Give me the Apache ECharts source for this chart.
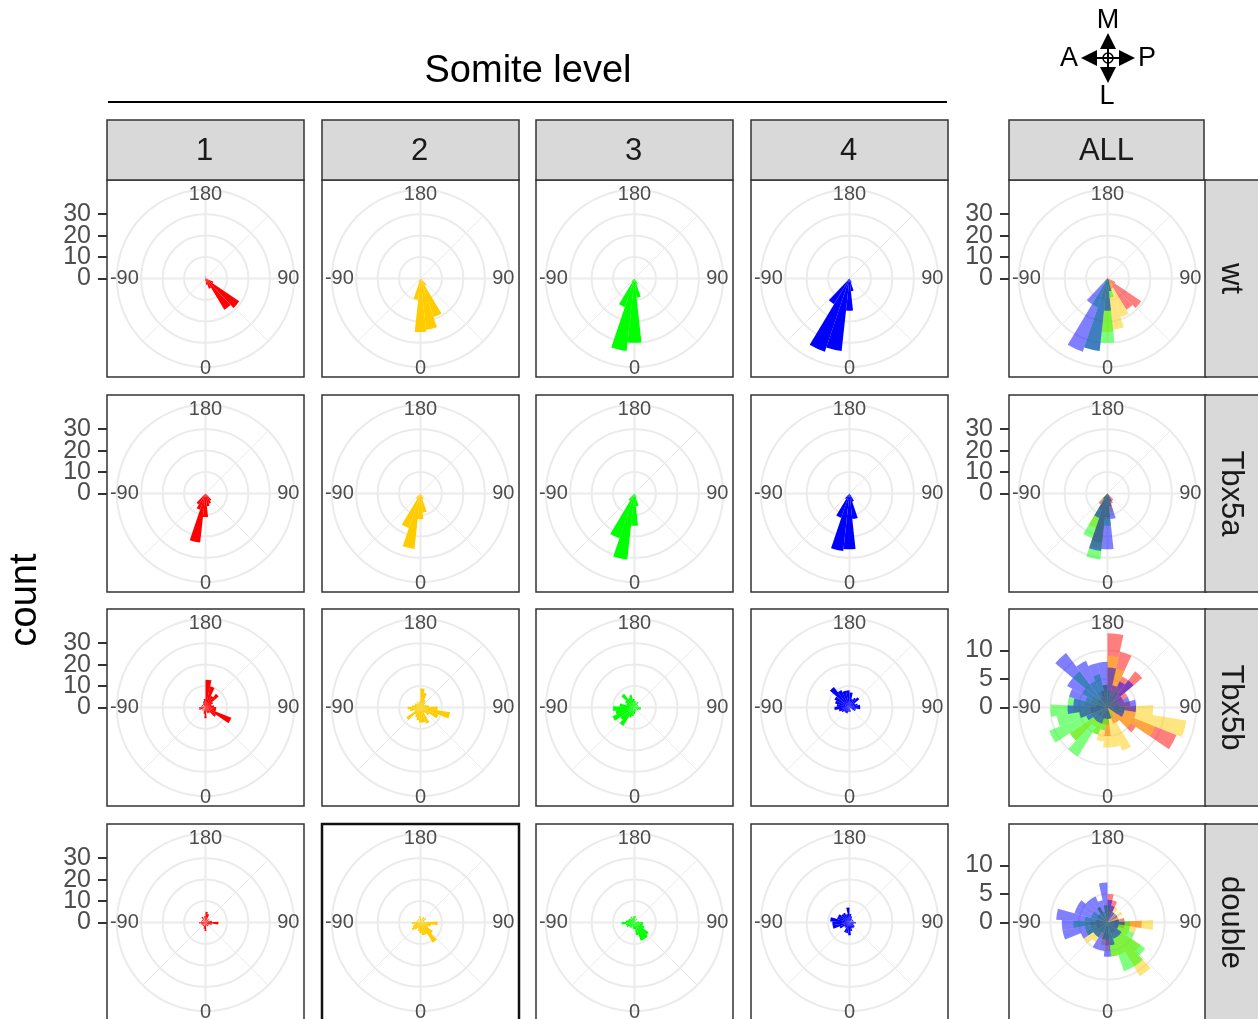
<!DOCTYPE html>
<html>
<head>
<meta charset="utf-8">
<script src="https://cdn.jsdelivr.net/npm/echarts@6/dist/echarts.min.js"></script>
<style>
  html, body { margin: 0; padding: 0; background: #ffffff; }
  #chart { width: 1258px; height: 1019px; }
</style>
</head>
<body>
<div id="chart"></div>
<script>
// Facets
const somiteLevels = ['1', '2', '3', '4'];
const genotypes = ['wt', 'Tbx5a', 'Tbx5b', 'double'];
const allLabel = 'ALL';
const levelColors = ['#ff0000', '#ffcc00', '#00ff00', '#0000ff'];

// Angle bins (29 bins of 360/29 degrees), centres from -173.79 to 173.79
const binCenters = [-173.79, -161.38, -148.97, -136.55, -124.14, -111.72, -99.31, -86.90, -74.48, -62.07,
  -49.66, -37.24, -24.83, -12.41, 0, 12.41, 24.83, 37.24, 49.66, 62.07,
  74.48, 86.90, 99.31, 111.72, 124.14, 136.55, 148.97, 161.38, 173.79];

// Grid spokes of the angle axis
const majorSpokes = [-90, 0, 90, 180];
const minorSpokes = [-45, 45, 135];
// Count axis ticks (split in two alternating sets so the big labels can sit close together)
const countBreaksMain = [[0, 20], [10, 30]];
const countBreaksMutantAll = [[0, 10], [5]];
const countGridMain = [10, 20, 30];
const countGridMutantAll = [5, 10];
const countMaxMain = 36.75;
const countMaxMutantAll = 13.8;

// Counts per angle bin, one array per genotype and somite level (bins in binCenters order)
const wt_1 = [0,0,0,0,0,0,0,0,0,0,0,0,0,1,1,3,5,17,19,4,1,0,0,0,0,0,0,0,1];
const wt_2 = [0,0,0,0,0,0,0,0,0,0,0,0,2,10,25,24,19,4,1,0,0,0,0,0,0,0,0,0,0];
const wt_3 = [0,0,0,0,0,0,0,0,0,0,0,2,14,34,30,9,3,0,0,0,0,0,0,0,0,0,0,0,0];
const wt_4 = [0,0,0,0,0,0,0,0,0,0,1,14,36,34,15,6,2,0,0,0,0,0,0,0,0,0,0,0,0];

const Tbx5a_1 = [0,0,0,0,0,0,0,0,0,0,0,6,8,23,11,6,5,4,0,0,0,0,0,0,0,0,0,0,0];
const Tbx5a_2 = [0,0,0,0,0,0,0,0,0,0,0,3,17,26,12,9,3,0,0,0,0,0,0,0,0,0,0,0,0];
const Tbx5a_3 = [0,0,0,0,0,0,0,0,0,0,0,4,22,31,15,6,2,0,0,0,0,0,0,0,0,0,0,0,0];
const Tbx5a_4 = [0,0,0,0,0,0,0,0,0,0,0,3,12,27,26,12,4,0,0,0,0,0,0,0,0,0,0,0,0];

const Tbx5b_1 = [4,3,2,0,2,0,2,3,3,0,2,0,2,3,5,2,3,3,6,13,5,5,4,3,4,8,6,10,13];
const Tbx5b_2 = [3,2,3,2,3,3,4,6,5,3,8,4,5,6,7,7,8,3,5,9,14,8,4,3,2,3,4,7,9];
const Tbx5b_3 = [4,6,5,8,5,4,7,10,9,11,8,10,5,4,3,2,2,0,0,2,3,3,2,0,2,0,3,2,3];
const Tbx5b_4 = [8,8,9,12,8,7,6,7,5,4,3,3,3,2,2,2,0,0,0,3,3,5,5,4,3,6,5,4,7];

const double_1 = [3,0,3,0,2,0,2,3,2,2,0,2,0,3,4,0,2,2,0,2,3,6,3,2,0,2,0,4,5];
const double_2 = [3,0,2,0,2,0,2,4,3,4,5,4,3,4,5,6,6,11,7,4,5,8,0,2,3,0,3,0,2];
const double_3 = [3,2,3,2,3,3,4,6,4,4,3,3,2,3,3,6,9,9,8,5,4,4,2,0,0,0,2,0,3];
const double_4 = [7,4,5,5,6,6,9,8,8,5,3,3,5,5,6,4,3,3,3,2,2,3,2,0,2,0,2,3,4];

const countsByGenotype = {
  wt: [wt_1, wt_2, wt_3, wt_4],
  Tbx5a: [Tbx5a_1, Tbx5a_2, Tbx5a_3, Tbx5a_4],
  Tbx5b: [Tbx5b_1, Tbx5b_2, Tbx5b_3, Tbx5b_4],
  double: [double_1, double_2, double_3, double_4]
};

// Layout
const panelLeft = [107, 322, 536, 751, 1009];
const panelTop = [180, 395, 609, 824];
const panelSize = 197;
const GRID = '#ebebeb';
const CLEAR = 'rgba(0,0,0,0)';
const FONT = "'Liberation Sans', Arial, Helvetica, sans-serif";
const AXIS_TEXT = '#4d4d4d';
const ANGLE_FONT = 20;

// which angle labels each overlay axis prints, and how far inside the ring it prints them
const angleLabelSets = [
  { values: [-180, 180], margin: -14.8 },
  { values: [0], margin: -8.7 },
  { values: [-90], margin: -22 },
  { values: [90], margin: -17 }
];

function circleColors(ext, step, gridValues) {
  const out = [];
  for (let i = 0; i * step <= ext + 1e-9; i++) {
    out.push(gridValues.indexOf(i * step) >= 0 ? GRID : CLEAR);
  }
  out.push(CLEAR);
  return out;
}

function angleText(v) { return Math.abs(v) === 180 ? '180' : String(v); }

const option = {
  animation: false,
  backgroundColor: '#ffffff',
  polar: [], angleAxis: [], radiusAxis: [],
  grid: [], xAxis: [], yAxis: [],
  series: [], graphic: []
};

genotypes.forEach(function (g, row) {
  const levelCounts = countsByGenotype[g];
  for (let col = 0; col < 5; col++) {
    const isAll = col === 4;
    const mutantScale = isAll && (g === 'Tbx5b' || g === 'double');
    const rMax = mutantScale ? countMaxMutantAll : countMaxMain;
    const breakSets = mutantScale ? countBreaksMutantAll : countBreaksMain;
    const gridValues = mutantScale ? countGridMutantAll : countGridMain;
    const step = gridValues[0];
    const ext = rMax * 0.45 / 0.4;
    const cx = panelLeft[col] + panelSize / 2;
    const cy = panelTop[row] + panelSize / 2;
    const R = panelSize * 0.45;

    // main polar: circles, outer ring and bars
    const p = option.polar.length;
    option.polar.push({ center: [cx, cy], radius: [0, R] });
    option.angleAxis.push({
      polarIndex: p, type: 'value', min: -180, max: 180, interval: 90,
      startAngle: 90, clockwise: false, z: 10,
      axisLine: { show: true, lineStyle: { color: GRID, width: 2 } },
      axisTick: { show: false }, axisLabel: { show: false }, splitLine: { show: false }
    });
    option.radiusAxis.push({
      polarIndex: p, type: 'value', min: 0, max: ext, interval: step,
      axisLine: { show: false }, axisTick: { show: false }, axisLabel: { show: false },
      splitLine: { show: true, lineStyle: { color: circleColors(ext, step, gridValues), width: 2 } }
    });

    // overlay polars on the same centre carrying the angle labels
    angleLabelSets.forEach(function (set) {
      const q = option.polar.length;
      option.polar.push({ center: [cx, cy], radius: [0, R] });
      option.angleAxis.push({
        polarIndex: q, type: 'value', min: -180, max: 180, interval: 90,
        startAngle: 90, clockwise: false, z: 11,
        axisLine: { show: false }, axisTick: { show: false }, splitLine: { show: false },
        axisLabel: {
          show: true, margin: set.margin, fontSize: ANGLE_FONT, color: AXIS_TEXT, fontFamily: FONT,
          formatter: function (v) { return set.values.indexOf(v) >= 0 ? angleText(v) : ''; }
        }
      });
      option.radiusAxis.push({
        polarIndex: q, type: 'value', min: 0, max: ext,
        axisLine: { show: false }, axisTick: { show: false }, axisLabel: { show: false }, splitLine: { show: false }
      });
    });

    // radial grid spokes
    majorSpokes.concat(minorSpokes).forEach(function (a) {
      const major = majorSpokes.indexOf(a) >= 0;
      option.series.push({
        type: 'line', coordinateSystem: 'polar', polarIndex: p, silent: true,
        symbol: 'none', data: [[0, a], [ext, a]],
        lineStyle: { color: GRID, width: major ? 2 : 1 }, z: 1
      });
    });

    const levels = isAll ? [0, 1, 2, 3] : [col];
    levels.forEach(function (li) {
      option.series.push({
        type: 'bar', coordinateSystem: 'polar', polarIndex: p, silent: true,
        name: g + ' ' + (isAll ? allLabel : somiteLevels[li]),
        data: binCenters.map(function (c, i) { return [levelCounts[li][i], c]; }),
        barCategoryGap: '0%', barGap: '-100%',
        itemStyle: { color: levelColors[li], opacity: isAll ? 0.5 : 1 },
        z: 2
      });
    });

    // panel border
    const strong = (row === 3 && col === 1);
    option.graphic.push({
      type: 'rect', z: 100, silent: true,
      shape: { x: panelLeft[col], y: panelTop[row], width: panelSize, height: panelSize },
      style: { fill: CLEAR, stroke: strong ? '#111111' : '#333333', lineWidth: strong ? 2.5 : 1.5 }
    });

    // count axis on the left of the first column and of the ALL column
    if (col === 0 || isAll) {
      const h = panelSize * 0.4;
      breakSets.forEach(function (set) {
        const gi = option.grid.length;
        option.grid.push({ left: panelLeft[col], top: cy - h, width: 1, height: h });
        option.xAxis.push({ gridIndex: gi, type: 'value', show: false, min: 0, max: 1 });
        option.yAxis.push({
          gridIndex: gi, type: 'value', min: 0, max: rMax, position: 'left',
          axisLine: { show: false },
          axisTick: { show: true, length: 9, customValues: set, lineStyle: { color: '#333333', width: 2 } },
          axisLabel: {
            show: true, customValues: set, margin: 16, fontSize: 25,
            color: AXIS_TEXT, fontFamily: FONT, showMinLabel: true, showMaxLabel: true
          },
          splitLine: { show: false }
        });
      });
    }
  }

  // genotype strip on the right
  option.graphic.push({
    type: 'rect', z: 100, silent: true,
    shape: { x: 1205, y: panelTop[row], width: 70, height: panelSize },
    style: { fill: '#d9d9d9', stroke: '#333333', lineWidth: 1.5 }
  });
  option.graphic.push({
    type: 'text', z: 101, silent: true, x: 1231, y: panelTop[row] + panelSize / 2, rotation: -Math.PI / 2,
    style: { text: g, fontSize: 31, fontFamily: FONT, fill: '#1a1a1a', align: 'center', verticalAlign: 'middle' }
  });
});

// somite level strips on top
somiteLevels.concat([allLabel]).forEach(function (lab, col) {
  option.graphic.push({
    type: 'rect', z: 100, silent: true,
    shape: { x: panelLeft[col], y: 120, width: col === 4 ? 195 : panelSize, height: 60 },
    style: { fill: '#d9d9d9', stroke: '#333333', lineWidth: 1.5 }
  });
  option.graphic.push({
    type: 'text', z: 101, silent: true, x: panelLeft[col] + 97.5, y: 151,
    style: { text: lab, fontSize: 31, fontFamily: FONT, fill: '#1a1a1a', align: 'center', verticalAlign: 'middle' }
  });
});

// header title and rule
option.graphic.push({
  type: 'text', z: 101, silent: true, x: 528, y: 72,
  style: { text: 'Somite level', fontSize: 38, fontFamily: FONT, fill: '#000000', align: 'center', verticalAlign: 'middle' }
});
option.graphic.push({
  type: 'line', z: 101, silent: true,
  shape: { x1: 108, y1: 102, x2: 947, y2: 102 },
  style: { stroke: '#000000', lineWidth: 2 }
});

// y title
option.graphic.push({
  type: 'text', z: 101, silent: true, x: 26, y: 600, rotation: Math.PI / 2,
  style: { text: 'count', fontSize: 38, fontFamily: FONT, fill: '#000000', align: 'center', verticalAlign: 'middle' }
});

// orientation compass (A-P / M-L)
(function () {
  const cx = 1108, cy = 58;
  const ink = { fill: '#000000' };
  const pen = { stroke: '#000000', lineWidth: 2 };
  option.graphic.push(
    { type: 'line', z: 101, silent: true, shape: { x1: cx - 16, y1: cy, x2: cx + 16, y2: cy }, style: pen },
    { type: 'line', z: 101, silent: true, shape: { x1: cx, y1: cy - 14, x2: cx, y2: cy + 14 }, style: pen },
    { type: 'polygon', z: 101, silent: true, shape: { points: [[cx - 27, cy], [cx - 11, cy - 8], [cx - 11, cy + 8]] }, style: ink },
    { type: 'polygon', z: 101, silent: true, shape: { points: [[cx + 27, cy], [cx + 11, cy - 8], [cx + 11, cy + 8]] }, style: ink },
    { type: 'polygon', z: 101, silent: true, shape: { points: [[cx, cy - 25], [cx - 8, cy - 9], [cx + 8, cy - 9]] }, style: ink },
    { type: 'polygon', z: 101, silent: true, shape: { points: [[cx, cy + 25], [cx - 8, cy + 9], [cx + 8, cy + 9]] }, style: ink },
    { type: 'circle', z: 101, silent: true, shape: { cx: cx, cy: cy, r: 5 }, style: { fill: CLEAR, stroke: '#000000', lineWidth: 1.5 } }
  );
  [['M', cx, cy - 37], ['A', cx - 39, cy + 1], ['P', cx + 39, cy + 1], ['L', cx - 1, cy + 39]].forEach(function (t) {
    option.graphic.push({
      type: 'text', z: 101, silent: true, x: t[1], y: t[2],
      style: { text: t[0], fontSize: 27, fontFamily: FONT, fill: '#000000', align: 'center', verticalAlign: 'middle' }
    });
  });
})();

const chart = echarts.init(document.getElementById('chart'), null, { renderer: 'canvas', width: 1258, height: 1019 });
chart.setOption(option);
</script>
</body>
</html>
